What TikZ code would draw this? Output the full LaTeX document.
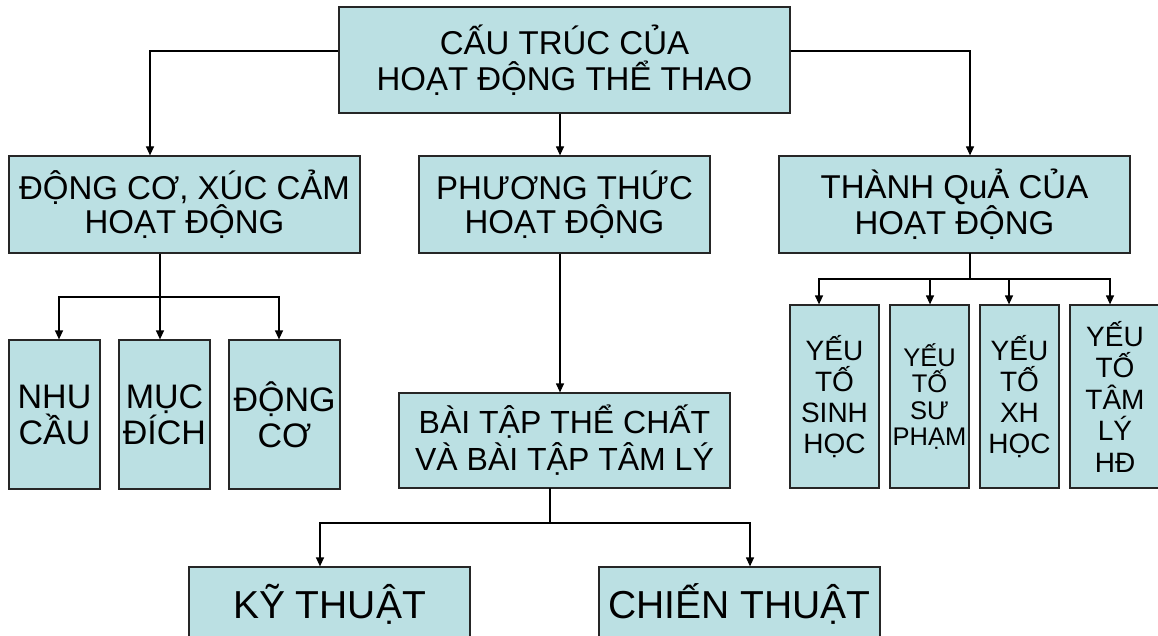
\documentclass[tikz,border=0pt]{standalone}
\usepackage{fontspec}
\setmainfont{Liberation Sans}
\usetikzlibrary{arrows.meta}
\definecolor{boxfill}{RGB}{187,224,227}
\begin{document}
\begin{tikzpicture}[x=1pt,y=-1pt,
  box/.style={draw=black!85, line width=1.2pt, fill=boxfill, inner sep=0pt, align=center, anchor=center},
  arr/.style={line width=1.2pt, -{Triangle[length=9pt,width=8pt]}},
  ln/.style={line width=1.2pt, line cap=rect}]
\useasboundingbox (0,0) rectangle (1158,636);
\clip (0,0) rectangle (1158,636);
\fill[white] (0,0) rectangle (1158,636);

% top
\node[box, minimum width=451pt, minimum height=106pt, font=\fontsize{33}{36}\selectfont] (top) at (564.5,60) {CẤU TRÚC CỦA\\HOẠT ĐỘNG THỂ THAO};

% row 2
\node[box, minimum width=351pt, minimum height=97pt, font=\fontsize{33}{34}\selectfont] (L) at (184.5,204.5) {ĐỘNG CƠ, XÚC CẢM\\HOẠT ĐỘNG};
\node[box, minimum width=291pt, minimum height=97pt, font=\fontsize{33}{34}\selectfont] (M) at (564.5,204.5) {PHƯƠNG THỨC\\HOẠT ĐỘNG};
\node[box, minimum width=351pt, minimum height=97pt, font=\fontsize{33}{34}\selectfont] (R) at (954.5,204.5) {THÀNH QuẢ CỦA\\HOẠT ĐỘNG};

% left children
\node[box, minimum width=91pt, minimum height=149pt, font=\fontsize{34}{36}\selectfont] (c1) at (54.5,414.5) {NHU\\CẦU};
\node[box, minimum width=91pt, minimum height=149pt, font=\fontsize{34}{36}\selectfont] (c2) at (164.5,414.5) {MỤC\\ĐÍCH};
\node[box, minimum width=111pt, minimum height=149pt, font=\fontsize{34}{36}\selectfont] (c3) at (284.5,414.5) {ĐỘNG\\CƠ};

% middle children
\node[box, minimum width=331pt, minimum height=95pt, font=\fontsize{32}{37}\selectfont] (BT) at (564.5,440.5) {BÀI TẬP THỂ CHẤT\\VÀ BÀI TẬP TÂM LÝ};
\node[box, minimum width=281pt, minimum height=74pt, font=\fontsize{39}{40}\selectfont] (KT) at (329.5,604) {KỸ THUẬT};
\node[box, minimum width=281pt, minimum height=74pt, font=\fontsize{39}{40}\selectfont] (CT) at (739.5,604) {CHIẾN THUẬT};

% right children
\node[box, minimum width=89pt, minimum height=183pt, font=\fontsize{28}{31}\selectfont] (r1) at (834.5,396.5) {YẾU\\TỐ\\SINH\\HỌC};
\node[box, minimum width=79pt, minimum height=183pt, font=\fontsize{25.5}{26.5}\selectfont] (r2) at (929.5,396.5) {YẾU\\TỐ\\SƯ\\PHẠM};
\node[box, minimum width=79pt, minimum height=183pt, font=\fontsize{28}{31}\selectfont] (r3) at (1019.5,396.5) {YẾU\\TỐ\\XH\\HỌC};
\node[box, minimum width=90pt, minimum height=183pt, font=\fontsize{28}{31.5}\selectfont] (r4) at (1115,396.5) {YẾU\\TỐ\\TÂM\\LÝ\\HĐ};

% helper coordinates
\coordinate (hy) at (0,51);
\coordinate (xL) at (150,0);
\coordinate (xM) at (560,0);
\coordinate (xR) at (970,0);
\coordinate (lb1) at (59,297);
\coordinate (lb2) at (160,297);
\coordinate (lb3) at (279,297);
\coordinate (mb0) at (550,523);
\coordinate (mb1) at (320,523);
\coordinate (mb2) at (750,523);
\coordinate (rb0) at (970,279);
\coordinate (rb1) at (819,279);
\coordinate (rb2) at (930,279);
\coordinate (rb3) at (1009,279);
\coordinate (rb4) at (1110,279);

% top connectors
\draw[arr] (top.west |- hy) -| (L.north -| xL);
\draw[arr] (top.east |- hy) -| (R.north -| xR);
\draw[arr] (top.south -| xM) -- (M.north -| xM);

% left connectors
\draw[arr] (L.south -| lb2) -- (c2.north -| lb2);
\draw[ln] (lb1) -- (lb3);
\draw[arr] (lb1) -- (c1.north -| lb1);
\draw[arr] (lb3) -- (c3.north -| lb3);

% middle connectors
\draw[arr] (M.south -| xM) -- (BT.north -| xM);
\draw[ln] (BT.south -| mb0) -- (mb0);
\draw[ln] (mb1) -- (mb2);
\draw[arr] (mb1) -- (KT.north -| mb1);
\draw[arr] (mb2) -- (CT.north -| mb2);

% right connectors
\draw[ln] (R.south -| rb0) -- (rb0);
\draw[ln] (rb1) -- (rb4);
\draw[arr] (rb1) -- (r1.north -| rb1);
\draw[arr] (rb2) -- (r2.north -| rb2);
\draw[arr] (rb3) -- (r3.north -| rb3);
\draw[arr] (rb4) -- (r4.north -| rb4);
\end{tikzpicture}
\end{document}
